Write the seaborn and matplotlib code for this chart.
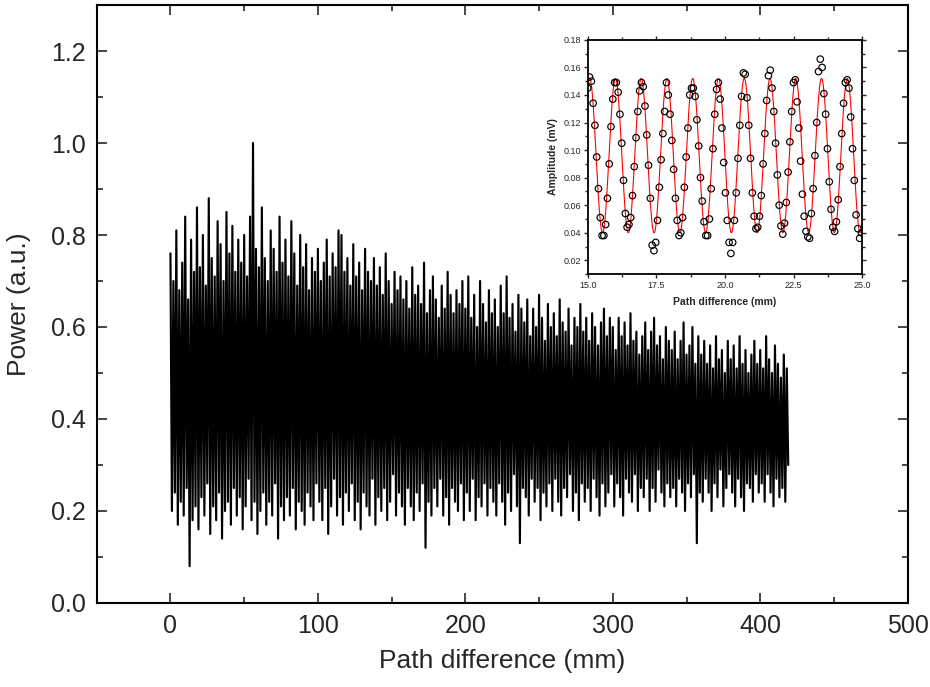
import numpy as np
import pandas as pd
import seaborn as sns
import matplotlib.pyplot as plt
from matplotlib.ticker import MultipleLocator, FormatStrFormatter

# main trace: alternating local maxima / minima, 1 mm apart
peak_vals = [
    .76, .70, .81, .68, .74, .84, .66, .79, .72, .86,
    .73, .80, .69, .88, .75, .71, .83, .78, .70, .85,
    .76, .82, .72, .79, .74, .80, .71, .84, 1.00, .77,
    .73, .86, .75, .70, .81, .77, .72, .84, .74, .79,
    .71, .83, .76, .69, .80, .73, .78, .68, .75, .72,
    .77, .70, .74, .79, .71, .76, .73, .81, .80, .72,
    .75, .69, .78, .71, .74, .68, .77, .72, .70, .75,
    .69, .73, .67, .76, .70, .65, .72, .68, .71, .66,
    .70, .64, .73, .67, .69, .65, .74, .63, .68, .71,
    .66, .62, .69, .64, .72, .67, .63, .68, .65, .70,
    .64, .71, .62, .67, .60, .70, .65, .61, .68, .63,
    .66, .60, .69, .63, .71, .62, .65, .59, .67, .64,
    .61, .66, .58, .64, .60, .67, .62, .57, .65, .60,
    .63, .58, .66, .61, .59, .64, .56, .62, .60, .65,
    .59, .62, .57, .63, .60, .56, .61, .64, .58, .62,
    .60, .55, .62, .58, .61, .56, .63, .57, .59, .54,
    .58, .61, .55, .59, .62, .56, .58, .53, .60, .57,
    .55, .59, .53, .57, .61, .54, .56, .60, .52, .58,
    .54, .57, .52, .56, .51, .58, .53, .55, .50, .57,
    .53, .56, .51, .58, .52, .55, .50, .54, .57, .52,
    .55, .51, .58, .53, .50, .56, .52, .49, .54, .51,
]
trough_vals = [
    .20, .24, .17, .22, .19, .25, .08, .18, .21, .16,
    .23, .19, .26, .15, .21, .18, .24, .14, .20, .22,
    .17, .25, .19, .23, .16, .21, .27, .18, .22, .15,
    .20, .24, .17, .22, .19, .26, .14, .21, .18, .23,
    .19, .25, .16, .22, .20, .17, .24, .21, .18, .26,
    .22, .18, .25, .15, .21, .27, .19, .23, .17, .24,
    .20, .26, .18, .22, .16, .24, .21, .19, .27, .17,
    .23, .20, .25, .18, .22, .28, .19, .24, .21, .17,
    .25, .21, .18, .24, .20, .26, .12, .22, .19, .25,
    .21, .27, .19, .23, .17, .25, .22, .20, .26, .18,
    .24, .20, .27, .18, .23, .21, .26, .19, .25, .22,
    .19, .26, .22, .17, .24, .20, .28, .21, .13, .25,
    .23, .19, .27, .22, .25, .18, .24, .21, .26, .20,
    .27, .22, .19, .25, .23, .28, .20, .24, .18, .26,
    .22, .25, .20, .27, .23, .19, .26, .21, .24, .28,
    .21, .26, .23, .19, .27, .24, .22, .28, .20, .25,
    .23, .27, .20, .25, .22, .29, .24, .21, .26, .23,
    .25, .21, .27, .24, .20, .26, .23, .28, .13, .24,
    .22, .27, .24, .20, .26, .23, .29, .21, .25, .28,
    .24, .21, .27, .23, .20, .26, .25, .22, .28, .24,
    .26, .22, .28, .24, .21, .27, .23, .25, .22, .30,
]
sample_step_mm = 1.0

# inset: measured amplitude points
inset_start_mm = 15.0
inset_step_mm = 0.0652
inset_amp = [
    .145, .153, .150, .134, .118, .095, .072, .051, .038, .038,
    .046, .065, .090, .117, .137, .149, .149, .142, .126, .105,
    .078, .054, .044, .046, .051, .067, .088, .109, .128, .143,
    .149, .146, .132, .111, .089, .065, .031, .027, .033, .049,
    .073, .093, .112, .128, .149, .140, .126, .107, .086, .065,
    .049, .038, .040, .051, .073, .095, .116, .140, .145, .145,
    .139, .122, .103, .080, .063, .048, .038, .038, .050, .072,
    .101, .126, .144, .149, .137, .116, .091, .069, .049, .033,
    .025, .033, .049, .069, .094, .118, .139, .156, .155, .138,
    .118, .094, .069, .052, .043, .044, .052, .067, .090, .112,
    .136, .154, .158, .145, .128, .105, .082, .060, .045, .039,
    .047, .062, .084, .106, .128, .149, .151, .135, .116, .092,
    .068, .052, .041, .037, .036, .054, .072, .096, .120, .157,
    .166, .160, .141, .126, .101, .077, .057, .044, .041, .048,
    .064, .088, .112, .134, .149, .151, .145, .124, .101, .078,
    .053, .043, .036, .040,
]
# sine fit drawn through the points (offset, amplitude, period, first peak)
fit_offset = 0.096
fit_amp = 0.056
fit_period = 0.939
fit_peak = 15.07

sns.set_style('ticks')
plt.rcParams['font.family'] = ['Liberation Sans', 'DejaVu Sans']

power = np.ravel(np.column_stack([peak_vals, trough_vals]))
main_df = pd.DataFrame({'path': np.arange(len(power)) * sample_step_mm, 'power': power})

inset_df = pd.DataFrame({'path': inset_start_mm + np.arange(len(inset_amp)) * inset_step_mm,
                         'amp': inset_amp})
fit_x = np.linspace(15, 25, 800)
fit_df = pd.DataFrame({'path': fit_x,
                       'amp': fit_offset + fit_amp * np.cos(2 * np.pi * (fit_x - fit_peak) / fit_period)})

fig = plt.figure(figsize=(9.3, 6.87), dpi=100)
ax = fig.add_axes([0.104, 0.1223, 0.872, 0.8704])
sns.lineplot(data=main_df, x='path', y='power', color='black', lw=1.55,
             estimator=None, sort=False, ax=ax)
ax.set_xlim(-50, 500)
ax.set_ylim(0, 1.3)
ax.xaxis.set_major_locator(MultipleLocator(100))
ax.xaxis.set_minor_locator(MultipleLocator(50))
ax.yaxis.set_major_locator(MultipleLocator(0.2))
ax.yaxis.set_minor_locator(MultipleLocator(0.1))
ax.yaxis.set_major_formatter(FormatStrFormatter('%.1f'))
ax.set_yticks([0, 0.2, 0.4, 0.6, 0.8, 1.0, 1.2])
ax.tick_params(which='both', direction='in', top=True, right=True, width=1.2,
               labelsize=18, pad=8)
ax.tick_params(which='major', length=7)
ax.tick_params(which='minor', length=4)
for s in ax.spines.values():
    s.set_linewidth(1.5)
    s.set_color('black')
ax.set_xlabel('Path difference (mm)', fontsize=19, labelpad=8)
ax.set_ylabel('Power (a.u.)', fontsize=19, labelpad=14)

# inset
ax_in = fig.add_axes([0.632, 0.601, 0.295, 0.341])
sns.lineplot(data=fit_df, x='path', y='amp', color='red', lw=0.8,
             estimator=None, sort=False, ax=ax_in)
sns.scatterplot(data=inset_df, x='path', y='amp', marker='o', s=22,
                facecolor='none', edgecolor='black', linewidth=0.85, ax=ax_in, zorder=3)
ax_in.set_xlim(15, 25)
ax_in.set_ylim(0.01, 0.18)
ax_in.set_xticks([15, 17.5, 20, 22.5, 25])
ax_in.xaxis.set_minor_locator(MultipleLocator(1.25))
ax_in.xaxis.set_major_formatter(FormatStrFormatter('%.1f'))
ax_in.set_yticks([0.02, 0.04, 0.06, 0.08, 0.10, 0.12, 0.14, 0.16, 0.18])
ax_in.yaxis.set_minor_locator(MultipleLocator(0.01))
ax_in.yaxis.set_major_formatter(FormatStrFormatter('%.2f'))
ax_in.tick_params(which='both', direction='out', top=True, right=True, width=1.0,
                  labelsize=6.5, pad=2)
ax_in.tick_params(which='major', length=3)
ax_in.tick_params(which='minor', length=2)
for s in ax_in.spines.values():
    s.set_linewidth(1.3)
    s.set_color('black')
ax_in.set_xlabel('Path difference (mm)', fontsize=7.5, fontweight='bold', labelpad=5)
ax_in.set_ylabel('Amplitude (mV)', fontsize=7.5, fontweight='bold', labelpad=4)

fig.savefig('out.png', dpi=100)
